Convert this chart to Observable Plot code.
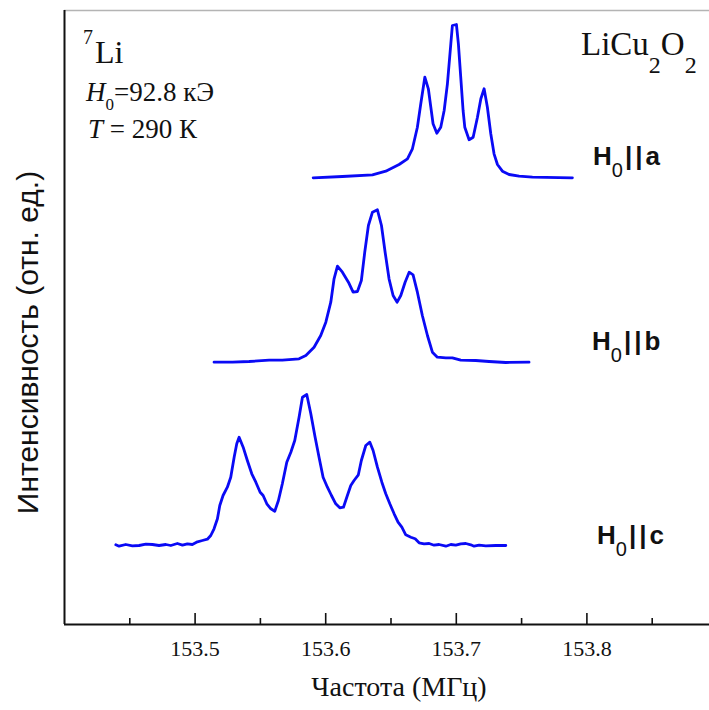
<!DOCTYPE html>
<html><head><meta charset="utf-8">
<script src="https://cdn.jsdelivr.net/npm/d3@7"></script>
<script src="https://cdn.jsdelivr.net/npm/@observablehq/plot@0.6"></script>
<style>body{margin:0;background:#fff}</style>
</head><body><div id="chart"></div>
<script>
// Spectrum H0||a : frequency (MHz) and intensity above its baseline (arb. units)
const freqA = [153.5904, 153.6128, 153.6358, 153.6460, 153.6562, 153.6626, 153.6664, 153.6702, 153.6728, 153.6759, 153.6786, 153.6805, 153.6822, 153.6851, 153.6881, 153.6907, 153.6932, 153.6958, 153.6970, 153.7001, 153.7016, 153.7034, 153.7052, 153.7065, 153.7098, 153.7129, 153.7162, 153.7188, 153.7213, 153.7238, 153.7264, 153.7289, 153.7315, 153.7353, 153.7404, 153.7481, 153.7583, 153.7889];
const intA  = [0, 1.3, 3, 6.6, 13.3, 19, 29, 50.6, 74, 100.6, 89, 70.6, 54, 44.6, 50.6, 67.3, 94, 134, 152.3, 153.3, 134, 100.6, 67.3, 50.6, 38, 40.6, 60.6, 79, 89, 70.6, 44, 24, 13.3, 6.6, 3.3, 1.6, 0.6, 0];
// Spectrum H0||b
const freqB = [153.5145, 153.5286, 153.5413, 153.5567, 153.5668, 153.5796, 153.5848, 153.5911, 153.5962, 153.6001, 153.6039, 153.6064, 153.6090, 153.6128, 153.6174, 153.6210, 153.6243, 153.6273, 153.6299, 153.6327, 153.6358, 153.6396, 153.6427, 153.6455, 153.6485, 153.6516, 153.6547, 153.6575, 153.6608, 153.6639, 153.6669, 153.6702, 153.6740, 153.6779, 153.6817, 153.6855, 153.6920, 153.6970, 153.7034, 153.7149, 153.7251, 153.7379, 153.7557];
const intB  = [0, 0, 0.7, 2, 2, 3.4, 6.7, 15, 26.7, 40, 60, 83.4, 96, 90, 80, 70, 70.7, 81.7, 110, 136.7, 150, 152.4, 136.7, 110, 83.4, 66.7, 60, 66.7, 80, 90, 87.4, 70, 46.7, 26.7, 10, 5, 4.4, 4.4, 2, 1.7, 0.7, -0.3, 0];
// Spectrum H0||c
const freqC = [153.4393, 153.4418, 153.4469, 153.4520, 153.4571, 153.4623, 153.4673, 153.4724, 153.4776, 153.4814, 153.4864, 153.4903, 153.4941, 153.4979, 153.5018, 153.5056, 153.5094, 153.5120, 153.5145, 153.5171, 153.5189, 153.5214, 153.5247, 153.5273, 153.5299, 153.5319, 153.5337, 153.5368, 153.5400, 153.5434, 153.5465, 153.5498, 153.5521, 153.5549, 153.5580, 153.5610, 153.5638, 153.5668, 153.5702, 153.5733, 153.5763, 153.5796, 153.5822, 153.5855, 153.5886, 153.5919, 153.5949, 153.5980, 153.6013, 153.6044, 153.6077, 153.6108, 153.6136, 153.6166, 153.6192, 153.6217, 153.6250, 153.6273, 153.6307, 153.6338, 153.6363, 153.6396, 153.6430, 153.6460, 153.6491, 153.6524, 153.6554, 153.6583, 153.6613, 153.6652, 153.6685, 153.6715, 153.6753, 153.6792, 153.6830, 153.6868, 153.6920, 153.6958, 153.6996, 153.7034, 153.7073, 153.7111, 153.7136, 153.7175, 153.7226, 153.7302, 153.7379];
const intC  = [0.7, -0.7, 1, -0.3, 0, 1.3, 1, 0, 1, 0, 2, 0.3, 1.7, 1, 3.7, 5, 6.3, 10, 16.7, 26.7, 40, 50, 58.3, 68.3, 88.3, 101.7, 108.3, 98.3, 85, 71.7, 63.3, 53.3, 50, 41.7, 36.7, 34.3, 45, 61.7, 83.3, 93.3, 105, 128.3, 148.3, 151, 131.7, 108.3, 88.3, 68.3, 58.3, 50, 41.7, 37.7, 38.3, 50, 60, 65, 70.7, 85, 100, 103.3, 95, 78.3, 63.3, 51.7, 41.7, 31.7, 23.3, 18.3, 10.7, 8.3, 6.7, 2.7, 1.7, 2, 0.3, 1, -0.7, 1, 0.3, 1.7, 2, 0.7, -0.7, 0.3, -0.3, 0, 0];
// vertical offsets of the stacked spectra
const offsets = {a: 446.7, b: 262.3, c: 79};
const seriesNames = ["a", "b", "c"];
const xTicks = [153.5, 153.6, 153.7, 153.8];
const xMinorTicks = [153.45, 153.55, 153.65, 153.75, 153.85];
const xLabel = "Частота (МГц)";
const yLabel = "Интенсивность (отн. ед.)";

const rows = [];
[[freqA, intA], [freqB, intB], [freqC, intC]].forEach(([fs, is], k) => {
  const s = seriesNames[k];
  fs.forEach((f, i) => rows.push({series: s, f, y: is[i] + offsets[s]}));
});

const X0 = 153.4, X1 = 153.4 + 645 / 1306;
const plot = Plot.plot({
  width: 709, height: 710,
  marginLeft: 64, marginRight: 0, marginTop: 10, marginBottom: 86,
  x: {domain: [X0, X1], axis: null},
  y: {domain: [0, 614], axis: null},
  style: {background: "white", overflow: "visible"},
  marks: [
    Plot.ruleY([614], {stroke: "#b4b4b4", strokeWidth: 1.5}),
    Plot.line(rows, {x: "f", y: "y", z: "series", stroke: "#0a0af5", strokeWidth: 2.8, strokeLinejoin: "round"}),
    Plot.ruleX(xTicks, {x: d => d, y1: 0, y2: 11, stroke: "#111", strokeWidth: 1.6}),
    Plot.ruleX(xMinorTicks, {x: d => d, y1: 0, y2: 6, stroke: "#111", strokeWidth: 1.6}),
    Plot.ruleX([X0], {stroke: "#111", strokeWidth: 2}),
    Plot.ruleY([0], {stroke: "#111", strokeWidth: 2}),
    Plot.text(xTicks, {x: d => d, y: 0, dy: 24, text: d => d.toFixed(1), fontSize: 22, fontFamily: "Liberation Serif", fill: "#111"}),
    Plot.text([xLabel], {frameAnchor: "bottom", textAnchor: "middle", dx: 12, dy: 71, fontSize: 28, fontFamily: "Liberation Serif", fill: "#111"}),
    Plot.text([yLabel], {frameAnchor: "left", textAnchor: "middle", rotate: -90, dx: -36, dy: 25, fontSize: 30, fontFamily: "Liberation Sans", fill: "#111"})
  ]
});
document.getElementById("chart").appendChild(plot);

const svg = d3.select(plot);
function rich(parts, attrs) {
  const t = svg.append("text").attr("fill", "#111").attr("text-anchor", "start");
  Object.entries(attrs).forEach(([k, v]) => t.attr(k, v));
  parts.forEach(p => {
    const s = t.append("tspan").text(p.t);
    ["x", "y", "dx", "font-size", "font-style", "font-weight", "letter-spacing"].forEach(k => { if (p[k] !== undefined) s.attr(k, p[k]); });
  });
  return t;
}
const serif = "Liberation Serif";
const sans = "Liberation Sans";
rich([{t: "7", x: 83, y: 44, "font-size": 20}, {t: "Li", x: 95, y: 63, "font-size": 32}], {"font-family": serif});
rich([{t: "H", x: 86, y: 101, "font-style": "italic"}, {t: "0", y: 110, "font-size": 17}, {t: "=92.8 кЭ", y: 101}], {"font-family": serif, "font-size": 27});
rich([{t: "T", x: 88, y: 138, "font-style": "italic"}, {t: " = 290 К", y: 138}], {"font-family": serif, "font-size": 27});
rich([{t: "LiCu", x: 581, y: 55}, {t: "2", y: 73, "font-size": 24}, {t: "O", y: 55}, {t: "2", y: 73, "font-size": 24}], {"font-family": serif, "font-size": 33});
const labels = [["a", 593, 165], ["b", 592, 350], ["c", 597, 544]];
labels.forEach(([s, x, y]) => {
  rich([{t: "H", x, y}, {t: "0", y: y + 12, "font-size": 20, "font-weight": "normal"},
        {t: "||", y, dx: 2, "letter-spacing": 3}, {t: s, y}], {"font-family": sans, "font-size": 26, "font-weight": "bold"});
});
</script>
</body></html>
